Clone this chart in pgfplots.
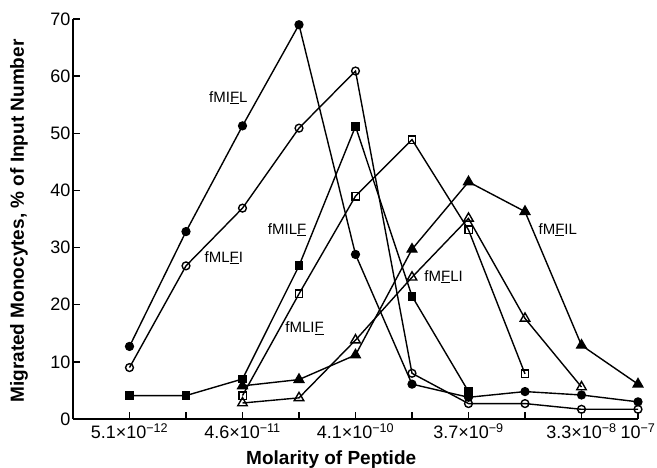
\documentclass[border=0pt]{standalone}
\usepackage{fontspec}
\setmainfont{Liberation Sans}
\usepackage{pgfplots}
\pgfplotsset{compat=1.18}

\begin{document}
\begin{tikzpicture}
% page frame matching the reference's margins around the axis box
\useasboundingbox (-73pt,-48pt) rectangle (584pt,419pt);
\begin{axis}[
    at={(0,0)}, anchor=south west,
    scale only axis,
    width=565pt, height=400pt,
    xmin=0, xmax=10,
    ymin=0, ymax=70,
    axis x line*=bottom,
    axis y line*=left,
    axis line style={line width=1.5pt},
    tick align=inside,
    major tick length=7pt,
    tick style={line width=1.4pt, black},
    xtick={1,...,10},
    xticklabels={5.1×10\textsuperscript{−12},,4.6×10\textsuperscript{−11},,4.1×10\textsuperscript{−10},,3.7×10\textsuperscript{−9},,3.3×10\textsuperscript{−8},10\textsuperscript{−7}},
    ytick={0,10,...,70},
    /pgf/number format/assume math mode=true,
    ticklabel style={font=\fontsize{18}{20}\selectfont},
    yticklabel style={xshift=1pt},
    xticklabel style={yshift=-1pt},
    xlabel={\textbf{Molarity of Peptide}},
    ylabel={\textbf{Migrated Monocytes, \% of Input Number}},
    label style={font=\fontsize{19}{21}\selectfont},
    xlabel style={at={(axis description cs:0.457,-0.101)}, anchor=center},
    ylabel style={at={(axis description cs:-0.0956,0.495)}, anchor=center},
    every axis plot/.append style={line width=1.4pt, black},
]
% fMIFL, filled circles
\addplot[mark=*, mark size=3.9pt] coordinates {
    (1,12.7)(2,32.8)(3,51.3)(4,69.0)(5,28.8)(6,6.1)(7,3.8)(8,4.8)(9,4.2)(10,3.0)
};
% fMLFI, open circles
\addplot[mark=o, mark size=3.9pt, mark options={fill=white}] coordinates {
    (1,9.0)(2,26.8)(3,36.9)(4,50.9)(5,60.9)(6,8.0)(7,2.7)(8,2.7)(9,1.7)(10,1.7)
};
% fMILF, filled squares
\addplot[mark=square*, mark size=3.7pt] coordinates {
    (1,4.1)(2,4.1)(3,7.0)(4,26.8)(5,51.2)(6,21.5)(7,4.8)
};
% fMLIF, open squares
\addplot[mark=square, mark size=3.7pt, mark options={fill=white}] coordinates {
    (3,4.1)(4,21.9)(5,39.0)(6,48.9)(7,33.1)(8,7.9)
};
% fMFIL, filled triangles
\addplot[mark=triangle*, mark size=5.5pt] coordinates {
    (3,5.8)(4,6.9)(5,11.2)(6,29.7)(7,41.5)(8,36.3)(9,12.9)(10,6.1)
};
% fMFLI, open triangles
\addplot[mark=triangle, mark size=5.5pt, mark options={fill=white}] coordinates {
    (3,2.8)(4,3.7)(5,13.8)(6,24.8)(7,35.1)(8,17.6)(9,5.6)
};
\begin{scope}[every node/.style={font=\fontsize{15}{17}\selectfont}]
\node at (axis cs:2.75,56.2) {fMI\underline{F}L};
\node at (axis cs:2.67,28.2) {fML\underline{F}I};
\node at (axis cs:3.79,33.1) {fMIL\underline{F}};
\node at (axis cs:4.10,15.9) {fMLI\underline{F}};
\node at (axis cs:6.56,24.9) {fM\underline{F}LI};
\node at (axis cs:8.58,33.1) {fM\underline{F}IL};
\end{scope}
\end{axis}
\end{tikzpicture}
\end{document}
